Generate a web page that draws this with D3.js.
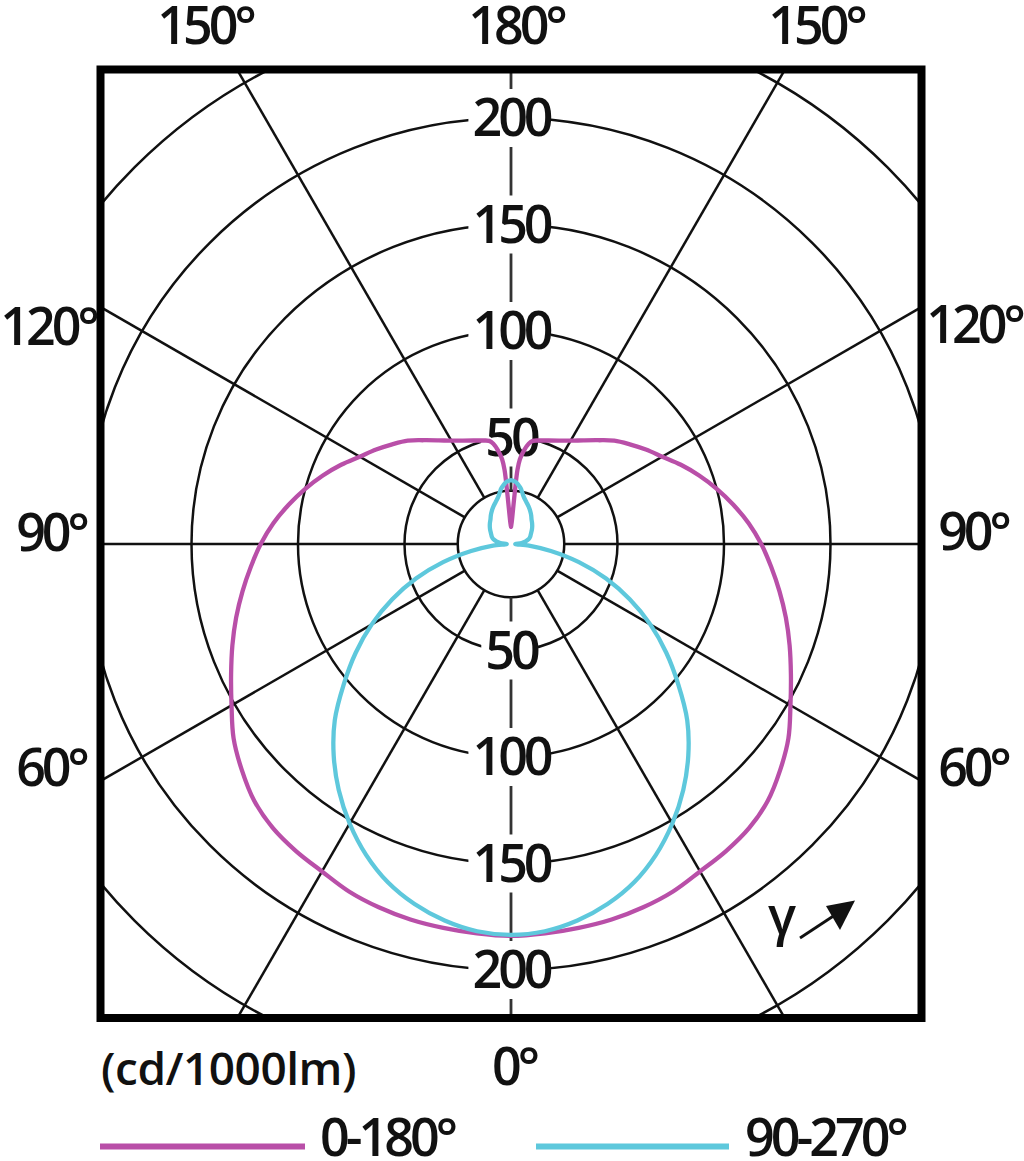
<!DOCTYPE html>
<html>
<head>
<meta charset="utf-8">
<script src="https://cdn.jsdelivr.net/npm/d3@7/dist/d3.min.js"></script>
<style>
  html, body { margin: 0; padding: 0; background: #fff; }
  svg { display: block; font-family: "Open Sans", "Noto Sans", sans-serif; font-weight: 600; }
</style>
</head>
<body>
<svg id="chart" width="1024" height="1161"></svg>
<script>
// ── Data (cd/1000lm), gamma measured from nadir ──
const gammaDeg = [0, 5, 10, 15, 20, 25, 30, 35, 40, 45, 50, 55, 60, 65, 70, 75, 80, 85, 90,
  95, 100, 105, 110, 115, 120, 125, 130, 135, 140, 145, 150, 155, 160, 165,
  168, 170, 172, 174, 175, 176, 177, 178, 179, 180];
const plane0_180 = [184, 183.5, 183, 182.5, 181.5, 180, 177.5, 176, 174, 170.5, 165, 159, 151.5, 145, 139.2, 133.6, 128, 122.6, 117.5,
  112, 106, 100, 94, 88, 82, 77.3, 72.8, 68.6, 63.6, 59.4, 56, 53.6, 51.7, 50.3,
  49.5, 47.8, 44.5, 40, 35, 22, 14, 10.5, 9, 8];
const plane90_270 = [183.5, 182.5, 179.5, 175, 169, 161, 151.5, 141, 129.5, 117, 102.5, 89, 75.5, 61.5, 47.5, 33, 19, 8.5, 2,
  5, 7, 8.5, 9.5, 10.2, 11, 12, 13, 14, 15, 16.5, 18, 19.5, 21, 23,
  25, 26.5, 27.5, 28.5, 29, 29.3, 29.5, 29.7, 29.8, 30];

const ringValues = [25, 50, 100, 150, 200, 250, 300];
const ringLabels = [50, 100, 150, 200];
const spokeDeg = [30, 60, 90, 120, 150];
const angleLabels = ['150°', '180°', '150°', '120°', '120°', '90°', '90°', '60°', '60°', '0°'];
const unitLabel = '(cd/1000lm)';
const seriesNames = ['0-180°', '90-270°'];
const seriesColors = ['#b94fa8', '#5ec8dc'];

// ── Layout ──
const cx = 511, cy = 544;
const frame = { x0: 100.5, y0: 69.5, x1: 921.5, y1: 1018 };
const angleLabelPos = [
  [205, 44], [516, 44], [816, 44],
  [48, 345], [974, 343],
  [51, 551], [973, 550],
  [51, 786], [973, 786],
  [514, 1085]
];

const svg = d3.select('#chart');
const r = d3.scaleLinear().domain([0, 200]).range([0, 426]);
const rad = d => d * Math.PI / 180;

svg.append('defs').append('clipPath').attr('id', 'clip')
  .append('rect')
  .attr('x', frame.x0).attr('y', frame.y0)
  .attr('width', frame.x1 - frame.x0).attr('height', frame.y1 - frame.y0);

const grid = svg.append('g').attr('clip-path', 'url(#clip)')
  .append('g').attr('transform', `translate(${cx},${cy})`);

// ── Rings ──
grid.selectAll('circle.ring').data(ringValues).join('circle')
  .attr('class', 'ring')
  .attr('r', d => r(d))
  .attr('fill', 'none').attr('stroke', '#111').attr('stroke-width', 2.5);

// ── Spokes (both halves) ──
const spokes = spokeDeg.flatMap(a => [a, -a]).concat([0, 180]);
grid.selectAll('line.spoke').data(spokes).join('line')
  .attr('class', 'spoke')
  .attr('x1', d => r(25) * Math.sin(rad(d)))
  .attr('y1', d => r(25) * Math.cos(rad(d)))
  .attr('x2', d => r(340) * Math.sin(rad(d)))
  .attr('y2', d => r(340) * Math.cos(rad(d)))
  .attr('stroke', d => (d === 0 || d === 180) ? '#333' : '#111')
  .attr('stroke-width', d => (d === 0 || d === 180) ? 2.8 : 2.5);

// ── Ring labels with white knock-out boxes ──
const ringLab = svg.append('g').attr('transform', `translate(${cx},${cy})`);
ringLabels.forEach(v => {
  [-1, 1].forEach(side => {
    const g = ringLab.append('g').attr('transform', `translate(0,${side * r(v)})`);
    const box = g.append('rect').attr('fill', '#fff');
    const t = g.append('text')
      .attr('text-anchor', 'middle').attr('y', 18)
      .attr('font-size', 52).attr('letter-spacing', -4)
      .attr('fill', '#111')
      .text(v);
    const w = t.node().getComputedTextLength();
    box.attr('x', -w / 2 - 4).attr('y', -29).attr('width', w + 5).attr('height', 58);
  });
});

// ── Curves ──
function loopPoints(vals) {
  const left = gammaDeg.map((g, i) => [Math.PI + rad(g), r(vals[i])]);
  const right = [];
  for (let i = gammaDeg.length - 2; i > 0; i--) right.push([Math.PI - rad(gammaDeg[i]), r(vals[i])]);
  return left.concat(right);
}
const radial = d3.lineRadial()
  .angle(d => d[0]).radius(d => d[1])
  .curve(d3.curveCatmullRomClosed.alpha(0.5));

const curves = svg.append('g').attr('transform', `translate(${cx},${cy})`);
[plane0_180, plane90_270].forEach((vals, i) => {
  curves.append('path')
    .attr('d', radial(loopPoints(vals)))
    .attr('fill', 'none')
    .attr('stroke', seriesColors[i])
    .attr('stroke-width', 4.3)
    .attr('stroke-linejoin', 'round');
});

// ── Frame ──
svg.append('rect')
  .attr('x', frame.x0).attr('y', frame.y0)
  .attr('width', frame.x1 - frame.x0).attr('height', frame.y1 - frame.y0)
  .attr('fill', 'none').attr('stroke', '#000').attr('stroke-width', 8);

// ── Angle labels ──
svg.append('g').selectAll('text').data(angleLabels).join('text')
  .attr('x', (d, i) => angleLabelPos[i][0])
  .attr('y', (d, i) => angleLabelPos[i][1])
  .attr('text-anchor', 'middle')
  .attr('font-size', 52).attr('letter-spacing', -4)
  .attr('fill', '#111')
  .text(d => d);

svg.append('text')
  .attr('x', 101).attr('y', 1085)
  .attr('font-size', 46).attr('letter-spacing', -0.5)
  .attr('fill', '#111')
  .text(unitLabel);

// ── Gamma arrow ──
svg.append('text')
  .attr('x', 782).attr('y', 934).attr('text-anchor', 'middle')
  .attr('font-size', 52).attr('fill', '#111')
  .text('γ');
svg.append('line')
  .attr('x1', 800).attr('y1', 938).attr('x2', 838).attr('y2', 913)
  .attr('stroke', '#111').attr('stroke-width', 2.8);
svg.append('path')
  .attr('d', 'M855,900.5 L826,906 L840,930 Z')
  .attr('fill', '#111');

// ── Legend ──
const legX = [[100, 305, 320], [536, 729, 745]];
const leg = svg.append('g').selectAll('g').data(seriesNames).join('g');
leg.append('line')
  .attr('x1', (d, i) => legX[i][0]).attr('x2', (d, i) => legX[i][1])
  .attr('y1', 1146.5).attr('y2', 1146.5)
  .attr('stroke', (d, i) => seriesColors[i]).attr('stroke-width', 6);
leg.append('text')
  .attr('x', (d, i) => legX[i][2]).attr('y', 1156)
  .attr('font-size', 52).attr('letter-spacing', -4)
  .attr('fill', '#111')
  .text(d => d);
</script>
</body>
</html>
